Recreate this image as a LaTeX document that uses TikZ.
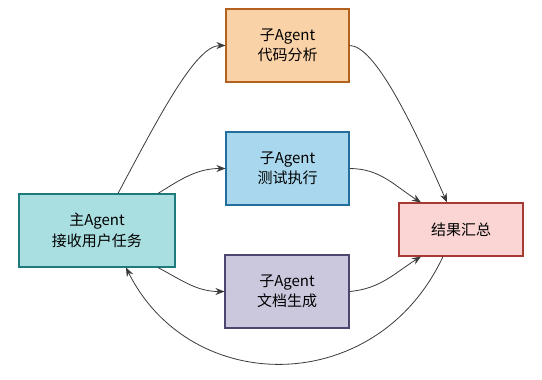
\documentclass[tikz,border=0pt]{standalone}
\usepackage{fontspec}
\newfontfamily\cjk{Noto Sans CJK SC}
\usetikzlibrary{arrows.meta}
\definecolor{mainF}{HTML}{A9DFE0}\definecolor{mainD}{HTML}{1E7B7D}
\definecolor{topF}{HTML}{FAD2A7}\definecolor{topD}{HTML}{B2621E}
\definecolor{midF}{HTML}{A9D8EE}\definecolor{midD}{HTML}{236E9C}
\definecolor{botF}{HTML}{CBC8DE}\definecolor{botD}{HTML}{4C4770}
\definecolor{resF}{HTML}{FAD5D4}\definecolor{resD}{HTML}{A83A36}
\definecolor{lineC}{HTML}{3A3A3A}
\tikzset{
  box/.style={draw, line width=1.1pt, align=center, inner sep=0pt,
    font=\cjk\fontsize{15}{20.5}\selectfont, text=black},
  conn/.style={draw=lineC, line width=0.8pt, -{Stealth[length=9pt,width=7pt]}, fill=none}
}
\begin{document}
\begin{tikzpicture}[x=1pt,y=-1pt]
\useasboundingbox (0,0) rectangle (542,380);
\node[box, fill=mainF, draw=mainD, minimum width=156pt, minimum height=73pt] (main) at (97,230.5) {主Agent\\接收用户任务};
\node[box, fill=topF, draw=topD, minimum width=123pt, minimum height=73pt] (top) at (287.5,45.5) {子Agent\\代码分析};
\node[box, fill=midF, draw=midD, minimum width=123pt, minimum height=73pt] (mid) at (287.5,168.5) {子Agent\\测试执行};
\node[box, fill=botF, draw=botD, minimum width=124pt, minimum height=73pt] (bot) at (287,291.5) {子Agent\\文档生成};
\node[box, fill=resF, draw=resD, minimum width=124pt, minimum height=53pt] (res) at (461,229.5) {结果汇总};

\draw[conn] ([xshift=21pt]main.north) .. controls +(40,-75) and +(-30,0) .. (top.west);
\draw[conn] ([xshift=61pt]main.north) to[out=32,in=180] (mid.west);
\draw[conn] ([xshift=61pt]main.south) to[out=-28,in=180] (bot.west);
\draw[conn] (top.east) .. controls +(25,0) and +(-35,-80) .. ([xshift=-14pt]res.north);
\draw[conn] (mid.east) to[out=0,in=148] ([xshift=-40pt]res.north);
\draw[conn] (bot.east) to[out=5,in=-148] ([xshift=-40pt]res.south);
\draw[conn] ([xshift=-18pt]res.south) .. controls +(-66,141) and +(65,130) .. ([xshift=29pt]main.south);
\end{tikzpicture}
\end{document}
